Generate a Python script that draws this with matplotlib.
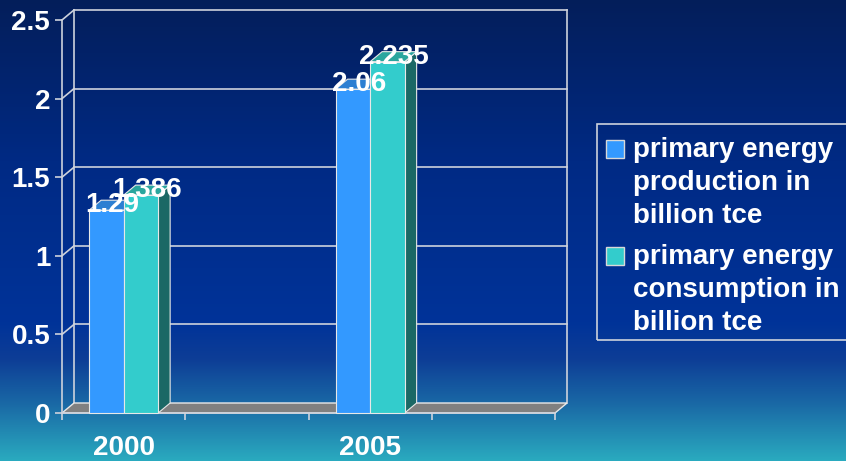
import numpy as np
import matplotlib
matplotlib.use("Agg")
import matplotlib.pyplot as plt
from matplotlib.patches import Polygon, Rectangle
from matplotlib.colors import LinearSegmentedColormap

# ─────────────────────────────────────────────
# Data (4 category slots, two of them empty)
# ─────────────────────────────────────────────
categories = ["2000", "", "2005", ""]
production = [1.29, None, 2.06, None]
consumption = [1.386, None, 2.235, None]
y_ticks = [0, 0.5, 1, 1.5, 2, 2.5]
y_tick_labels = ["0", "0.5", "1", "1.5", "2", "2.5"]
legend_labels = ["primary energy\nproduction in\nbillion tce",
                 "primary energy\nconsumption in\nbillion tce"]

# ─────────────────────────────────────────────
# Layout / style
# ─────────────────────────────────────────────
W, H = 846, 461
AX_LEFT, AX_BOTTOM, AX_W, AX_H = 62, 48, 505, 403      # pixels
DEPTH_X, DEPTH_Y = 12, 10                               # 3D offset, pixels
N_CAT = len(categories)
Y_MAX = y_ticks[-1]
DX = DEPTH_X / ((AX_W - DEPTH_X) / N_CAT)
DY = DEPTH_Y / ((AX_H - DEPTH_Y) / Y_MAX)
BAR_W = 0.28

GRID = "#cdd2dc"
WHITE_EDGE = "#e8e8e8"
PROD_COLORS = dict(front="#3399ff", top="#2c7fd2", side="#1f5fa8")
CONS_COLORS = dict(front="#33cccc", top="#2aa69e", side="#1b6865")
FONT = 20

plt.rcParams["font.family"] = ["Liberation Sans", "DejaVu Sans"]
plt.rcParams["font.weight"] = "bold"

fig = plt.figure(figsize=(W / 100, H / 100), dpi=100)

# ── Background gradient ──────────────────────────────────────
bg_cmap = LinearSegmentedColormap.from_list("bg", [
    (0.00, "#2aaabf"),
    (0.12, "#1a6aa6"),
    (0.22, "#0d3d96"),
    (0.30, "#003399"),
    (0.65, "#002a84"),
    (1.00, "#041e5a"),
])
bg = fig.add_axes([0, 0, 1, 1], zorder=-1)
bg.imshow(np.linspace(0, 1, 256).reshape(-1, 1), cmap=bg_cmap, aspect="auto",
          origin="lower", extent=[0, 1, 0, 1])
bg.axis("off")

# ── Main axes ────────────────────────────────────────────────
ax = fig.add_axes([AX_LEFT / W, AX_BOTTOM / H, AX_W / W, AX_H / H])
ax.patch.set_visible(False)
ax.set_xlim(0, N_CAT + DX)
ax.set_ylim(0, Y_MAX + DY)

for side in ("top", "right"):
    ax.spines[side].set_visible(False)
ax.spines["left"].set_bounds(0, Y_MAX)
ax.spines["bottom"].set_bounds(0, N_CAT)
for side in ("left", "bottom"):
    ax.spines[side].set_color(GRID)
    ax.spines[side].set_linewidth(1.2)

ax.set_yticks(y_ticks, y_tick_labels)
ax.tick_params(axis="y", length=5, width=1.2, color=GRID, pad=3.5,
               labelcolor="white", labelsize=FONT)
ax.set_xticks(np.arange(N_CAT) + 0.5, categories)
ax.set_xticks(np.arange(N_CAT + 1), minor=True)
ax.tick_params(axis="x", which="major", length=0, pad=16,
               labelcolor="white", labelsize=FONT)
ax.tick_params(axis="x", which="minor", length=5, width=1.2, color=GRID)

# ── Walls, floor, gridlines ──────────────────────────────────
line_kw = dict(color=GRID, lw=1.2, clip_on=False, zorder=1)
ax.plot([DX, DX], [DY, Y_MAX + DY], **line_kw)
ax.plot([N_CAT + DX, N_CAT + DX], [DY, Y_MAX + DY], **line_kw)
for t in y_ticks[1:]:
    ax.plot([DX, N_CAT + DX], [t + DY, t + DY], **line_kw)
    ax.plot([0, DX], [t, t + DY], **line_kw)

ax.add_patch(Polygon([(0, 0), (N_CAT, 0), (N_CAT + DX, DY), (DX, DY)],
                     closed=True, fc="#808080", ec=WHITE_EDGE, lw=1.0,
                     clip_on=False, zorder=2))


def draw_bar(x0, v, colors):
    """Front face, top and right side of one 3D column."""
    kw = dict(ec=WHITE_EDGE, lw=0.8, clip_on=False, zorder=3)
    ax.add_patch(Polygon([(x0 + BAR_W, 0), (x0 + BAR_W + DX, DY),
                          (x0 + BAR_W + DX, v + DY), (x0 + BAR_W, v)],
                         closed=True, fc=colors["side"], **kw))
    ax.add_patch(Polygon([(x0, v), (x0 + BAR_W, v), (x0 + BAR_W + DX, v + DY),
                          (x0 + DX, v + DY)],
                         closed=True, fc=colors["top"], **kw))
    ax.add_patch(Rectangle((x0, 0), BAR_W, v, fc=colors["front"], **kw))
    ax.text(x0 + BAR_W / 2 + DX / 2, v + DY / 2, f"{v:g}", color="white",
            fontsize=FONT, fontweight="bold", ha="center", va="center",
            zorder=5, clip_on=False)


for i, (p, c) in enumerate(zip(production, consumption)):
    if p is not None:
        draw_bar(i + 0.5 - BAR_W, p, PROD_COLORS)
    if c is not None:
        draw_bar(i + 0.5, c, CONS_COLORS)

# ── Legend (drawn by hand so the swatch sits on the first line) ─
def fx(px):
    return px / W


def fy(py):
    return 1 - py / H


fig.patches.append(Rectangle((fx(597), fy(340)), fx(880) - fx(597), fy(124) - fy(340),
                             transform=fig.transFigure, fill=False, ec=GRID, lw=1.2))
entry_tops = [157, 264]
line_step = 33
for label, base, colors in zip(legend_labels, entry_tops, [PROD_COLORS, CONS_COLORS]):
    fig.patches.append(Rectangle((fx(606), fy(base + 1)), fx(18), 18 / H,
                                 transform=fig.transFigure, fc=colors["front"],
                                 ec="#d8d8d8", lw=1.0))
    for k, line in enumerate(label.split("\n")):
        fig.text(fx(633), fy(base + k * line_step), line, color="white",
                 fontsize=FONT, fontweight="bold", ha="left", va="baseline")

fig.savefig("out.png", dpi=100)
